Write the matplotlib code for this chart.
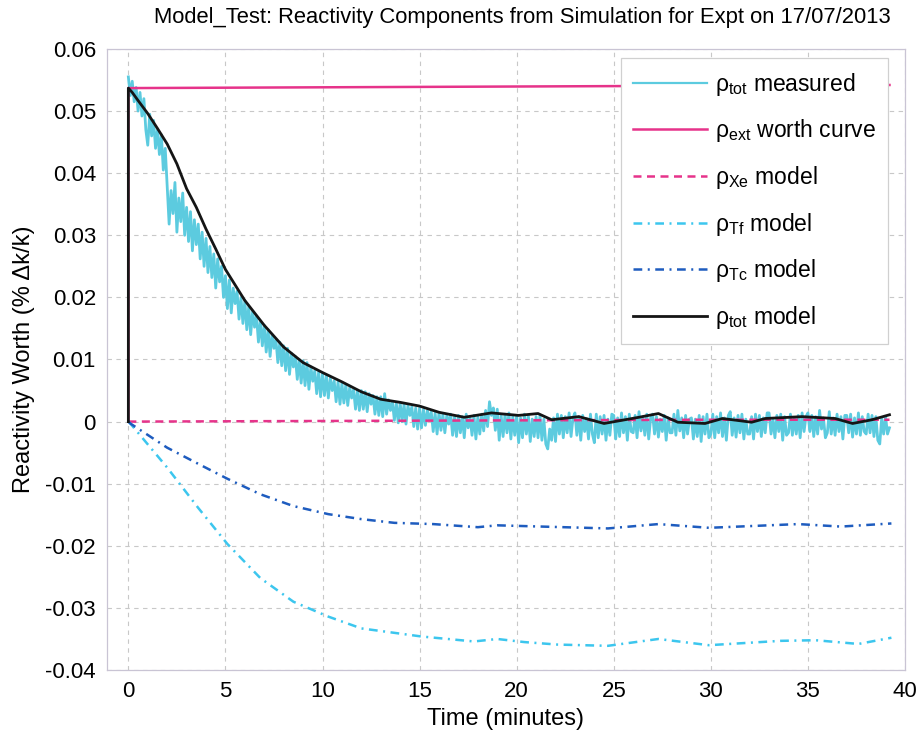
import numpy as np
import matplotlib
matplotlib.use('Agg')
import matplotlib.pyplot as plt

plt.rcParams['font.family'] = ['Liberation Sans', 'DejaVu Sans']
plt.rcParams['mathtext.fontset'] = 'custom'
plt.rcParams['mathtext.rm'] = 'Liberation Sans'
plt.rcParams['mathtext.it'] = 'Liberation Sans:italic'

# measured total reactivity, one sample every 0.1 min from t = 0 (one row per minute)
meas_rho = [
    0.0555, 0.0525, 0.0548, 0.0515, 0.0538, 0.0500, 0.0530, 0.0492, 0.0520, 0.0470,
    0.0445, 0.0495, 0.0460, 0.0485, 0.0440, 0.0470, 0.0430, 0.0462, 0.0405, 0.0440,
    0.0380, 0.0318, 0.0372, 0.0335, 0.0385, 0.0305, 0.0360, 0.0322, 0.0368, 0.0300,
    0.0345, 0.0290, 0.0338, 0.0275, 0.0325, 0.0285, 0.0318, 0.0262, 0.0305, 0.0250,
    0.0295, 0.0240, 0.0282, 0.0232, 0.0270, 0.0215, 0.0262, 0.0225, 0.0250, 0.0200,
    0.0235, 0.0182, 0.0228, 0.0175, 0.0215, 0.0190, 0.0210, 0.0165, 0.0200, 0.0158,
    0.0195, 0.0148, 0.0185, 0.0140, 0.0178, 0.0152, 0.0170, 0.0128, 0.0162, 0.0122,
    0.0155, 0.0112, 0.0148, 0.0105, 0.0140, 0.0118, 0.0132, 0.0095, 0.0128, 0.0090,
    0.0122, 0.0082, 0.0118, 0.0076, 0.0110, 0.0088, 0.0105, 0.0068, 0.0100, 0.0062,
    0.0098, 0.0058, 0.0095, 0.0052, 0.0088, 0.0065, 0.0082, 0.0045, 0.0080, 0.0040,
    0.0078, 0.0042, 0.0075, 0.0038, 0.0070, 0.0050, 0.0066, 0.0032, 0.0064, 0.0028,
    0.0062, 0.0030, 0.0060, 0.0026, 0.0055, 0.0038, 0.0052, 0.0020, 0.0050, 0.0018,
    0.0050, 0.0020, 0.0048, 0.0016, 0.0045, 0.0028, 0.0042, 0.0012, 0.0040, 0.0010,
    0.0040, 0.0008, 0.0045, 0.0012, 0.0035, 0.0018, 0.0032, 0.0002, 0.0030, -0.0002,
    0.0030, 0.0000, 0.0028, -0.0004, 0.0026, 0.0010, 0.0024, -0.0008, 0.0022, -0.0012,
    0.0022, -0.0010, 0.0020, -0.0006, 0.0018, 0.0002, 0.0016, -0.0016, 0.0014, -0.0020,
    0.0015, -0.0014, 0.0012, -0.0018, 0.0010, -0.0004, 0.0012, -0.0022, 0.0008, -0.0024,
    0.0010, -0.0018, 0.0008, -0.0026, 0.0012, -0.0010, 0.0006, -0.0022, 0.0010, -0.0028,
    0.0008, -0.0020, 0.0012, -0.0015, 0.0018, -0.0008, 0.0032, 0.0010, 0.0022, -0.0014,
    0.0020, -0.0030, 0.0010, -0.0024, 0.0012, -0.0018, 0.0014, -0.0028, 0.0008, -0.0022,
    0.0010, -0.0034, 0.0006, -0.0026, 0.0012, -0.0020, 0.0010, -0.0032, 0.0004, -0.0024,
    0.0008, -0.0026, 0.0010, -0.0030, 0.0004, -0.0036, -0.0044, -0.0012, -0.0030, 0.0006,
    -0.0032, 0.0012, -0.0020, 0.0010, -0.0026, 0.0008, -0.0018, 0.0014, -0.0024, 0.0006,
    0.0014, -0.0022, 0.0008, -0.0030, 0.0010, -0.0016, 0.0005, -0.0028, 0.0012, -0.0020,
    -0.0034, 0.0012, -0.0026, 0.0008, -0.0020, 0.0010, -0.0030, 0.0004, -0.0022, 0.0012,
    0.0010, -0.0028, 0.0006, -0.0024, 0.0014, -0.0018, 0.0008, -0.0030, 0.0012, -0.0016,
    -0.0018, 0.0010, -0.0026, 0.0016, -0.0015, 0.0008, -0.0022, 0.0012, -0.0028, 0.0006,
    0.0012, -0.0020, 0.0008, -0.0025, 0.0004, -0.0016, 0.0010, -0.0030, 0.0006, -0.0018,
    -0.0018, 0.0012, -0.0022, 0.0018, -0.0015, 0.0006, -0.0026, 0.0010, -0.0020, 0.0004,
    0.0006, -0.0028, 0.0004, -0.0024, 0.0010, -0.0032, 0.0008, -0.0020, 0.0012, -0.0026,
    -0.0020, 0.0012, -0.0026, 0.0008, -0.0018, 0.0014, -0.0024, 0.0006, -0.0030, 0.0010,
    0.0016, -0.0022, 0.0006, -0.0025, 0.0010, -0.0018, 0.0012, -0.0028, 0.0004, -0.0020,
    -0.0020, 0.0008, -0.0028, 0.0012, -0.0016, 0.0010, -0.0024, 0.0006, -0.0018, 0.0014,
    0.0014, -0.0020, 0.0004, -0.0026, 0.0010, -0.0016, 0.0012, -0.0030, 0.0008, -0.0022,
    -0.0018, 0.0012, -0.0022, 0.0006, -0.0020, 0.0010, -0.0026, 0.0014, -0.0016, 0.0008,
    0.0014, -0.0016, 0.0010, -0.0024, 0.0008, -0.0020, 0.0018, -0.0012, 0.0006, -0.0026,
    -0.0018, 0.0016, -0.0020, 0.0006, -0.0022, 0.0012, -0.0016, 0.0008, -0.0028, 0.0010,
    0.0010, -0.0018, 0.0012, -0.0025, 0.0006, -0.0020, 0.0014, -0.0022, 0.0008, -0.0016,
    -0.0020, 0.0012, -0.0018, 0.0010, -0.0024, 0.0008, -0.0030, -0.0036, 0.0006, -0.0020,
    0.0008, -0.0020, -0.0010,
]
meas_t = np.round(np.arange(len(meas_rho)) * 0.1, 1)

# external (rod worth curve)
ext_t = [0.0, 0.0, 39.2]
ext_rho = [0.0, 0.0537, 0.0542]

# xenon model
xe_t = [0.0, 10.0, 20.0, 30.0, 39.2]
xe_rho = [0.0, 0.0001, 0.0002, 0.0003, 0.0003]

# fuel temperature model
tf_t = [0.0, 0.1, 2.0, 3.6, 5.1, 6.8, 8.5, 10.3, 12.0, 13.2, 15.1, 17.8, 19.0, 20.4,
        22.1, 24.7, 27.3, 29.9, 33.6, 35.4, 37.6, 39.3]
tf_rho = [0.0, -0.0003, -0.0074, -0.0139, -0.0197, -0.0252, -0.0290, -0.0314, -0.0333,
          -0.0338, -0.0346, -0.0354, -0.0350, -0.0355, -0.0359, -0.0361, -0.0350, -0.0360,
          -0.0353, -0.0352, -0.0358, -0.0348]

# coolant temperature model
tc_t = [0.0, 0.1, 2.0, 3.6, 5.1, 6.8, 8.5, 10.3, 12.0, 13.7, 15.7, 18.0, 19.0, 24.7,
        27.3, 29.9, 34.5, 36.7, 39.3]
tc_rho = [0.0, -0.0003, -0.0042, -0.0068, -0.0092, -0.0117, -0.0136, -0.0149, -0.0157,
          -0.0163, -0.0165, -0.0170, -0.0167, -0.0172, -0.0165, -0.0171, -0.0165, -0.0169,
          -0.0164]

# total model
tot_t = [0.0, 0.0, 0.2, 0.5, 1.0, 1.5, 2.0, 2.5, 3.0, 3.5, 4.0, 4.5, 5.0, 6.0, 7.0, 8.0,
         9.0, 10.0, 11.0, 12.0, 13.0, 14.0, 15.0, 16.0, 17.3, 18.7, 20.1, 21.1, 21.8,
         23.2, 24.5, 26.3, 27.3, 28.3, 29.7, 30.6, 32.1, 32.8, 34.7, 36.4, 37.3, 38.3, 39.2]
tot_rho = [0.0, 0.0537, 0.0530, 0.0517, 0.0496, 0.0472, 0.0447, 0.0415, 0.0375, 0.0345,
           0.0310, 0.0278, 0.0245, 0.0195, 0.0155, 0.0120, 0.0095, 0.0079, 0.0064, 0.0048,
           0.0036, 0.0031, 0.0025, 0.0015, 0.0007, 0.0014, 0.0010, 0.0013, 0.0003, 0.0008,
           -0.0003, 0.0007, 0.0013, -0.0001, -0.0003, 0.0005, -0.0001, 0.0005, 0.0008,
           0.0005, -0.0003, 0.0003, 0.0011]

fig = plt.figure(figsize=(9.2, 7.33), dpi=100)
ax = fig.add_axes([0.1163, 0.0859, 0.8674, 0.8473])

ax.plot(meas_t, meas_rho, color='#5ccbdf', lw=2.0, label=r'ρ$_{\mathrm{tot}}$ measured')
ax.plot(ext_t, ext_rho, color='#e6338a', lw=1.8, label=r'ρ$_{\mathrm{ext}}$ worth curve')
ax.plot(xe_t, xe_rho, color='#e6338a', lw=1.8, ls=(0, (3.2, 2.2)), label=r'ρ$_{\mathrm{Xe}}$ model')
ax.plot(tf_t, tf_rho, color='#3cc6ee', lw=1.8, ls=(0, (3.5, 2.2, 0.8, 2.2)), label=r'ρ$_{\mathrm{Tf}}$ model')
ax.plot(tc_t, tc_rho, color='#1e5cbf', lw=1.8, ls=(0, (3.5, 2.2, 0.8, 2.2)), label=r'ρ$_{\mathrm{Tc}}$ model')
ax.plot(tot_t, tot_rho, color='#151515', lw=2.0, label=r'ρ$_{\mathrm{tot}}$ model')

ax.set_xlim(-1.1, 40)
ax.set_ylim(-0.04, 0.06)
ax.set_xticks([0, 5, 10, 15, 20, 25, 30, 35, 40])
ax.set_yticks([-0.04, -0.03, -0.02, -0.01, 0, 0.01, 0.02, 0.03, 0.04, 0.05, 0.06])
ax.set_yticklabels(['-0.04', '-0.03', '-0.02', '-0.01', '0', '0.01', '0.02', '0.03',
                    '0.04', '0.05', '0.06'])
ax.tick_params(labelsize=16, length=0, pad=8)
ax.grid(True, color='#c8c8c8', lw=0.8, ls=(0, (4, 4)))
for s in ax.spines.values():
    s.set_color('#c9c4d4')
    s.set_linewidth(0.9)

ax.set_xlabel('Time (minutes)', fontsize=17, labelpad=4)
ax.set_ylabel('Reactivity Worth (% Δk/k)', fontsize=17, labelpad=7)
fig.text(522 / 920, 1 - 18 / 733, 'Model_Test: Reactivity Components from Simulation for Expt on 17/07/2013',
         ha='center', va='center', fontsize=15.8)

leg = ax.legend(loc='upper right', bbox_to_anchor=(0.9787, 0.9855), borderaxespad=0,
                fontsize=16.5, handlelength=3.2, handletextpad=0.35, labelspacing=0.86,
                fancybox=False, framealpha=1, edgecolor='#d0d0d0', borderpad=0.55)
leg.get_frame().set_linewidth(0.9)
leg.get_lines()[0].set_linewidth(1.6)

fig.savefig('out.png', dpi=100, facecolor='white')
